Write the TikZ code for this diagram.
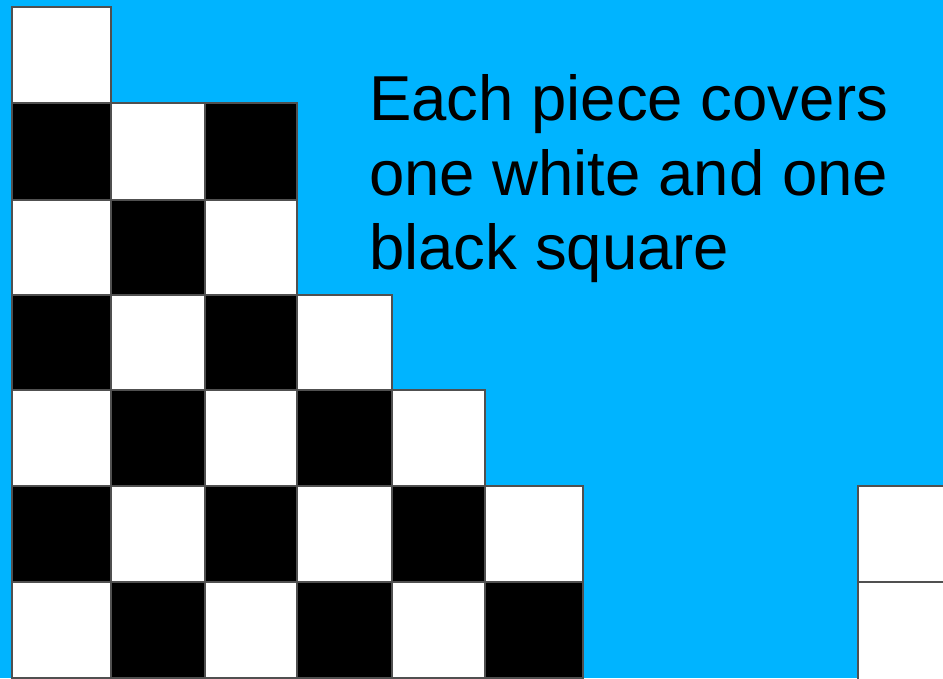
\documentclass[tikz,border=0pt]{standalone}
\usepackage{fontspec}
\setmainfont{Liberation Sans}
\definecolor{bgblue}{HTML}{00B4FF}
\definecolor{edgegray}{HTML}{505050}
\tikzset{
  cellw/.style={fill=white,draw=edgegray,line width=1.4pt},
  cellb/.style={fill=black,draw=edgegray,line width=1.4pt},
  caption/.style={font=\fontsize{63.5}{74.5}\selectfont,align=left,inner sep=0pt,anchor=north west,text=black}
}
\begin{document}
\begin{tikzpicture}[x=1pt,y=-1pt]
\fill[bgblue] (0,0) rectangle (943,678);
\useasboundingbox (0,0) rectangle (943,678);
\def\xs{{12,111,205,297,392,485,583}}
\def\ys{{7,103,200,295,390,486,582,678}}
\def\cmax{{0,2,2,3,4,5,5}}
\foreach \r in {0,...,6}{
  \pgfmathtruncatemacro{\cm}{\cmax[\r]}
  \foreach \c in {0,...,\cm}{
    \pgfmathsetmacro{\xa}{\xs[\c]}
    \pgfmathsetmacro{\xb}{\xs[\c+1]}
    \pgfmathsetmacro{\ya}{\ys[\r]}
    \pgfmathsetmacro{\yb}{\ys[\r+1]}
    \pgfmathtruncatemacro{\parity}{mod(\r+\c,2)}
    \ifnum\parity=0
      \draw[cellw] (\xa,\ya) rectangle (\xb,\yb);
    \else
      \draw[cellb] (\xa,\ya) rectangle (\xb,\yb);
    \fi
  }
}
\draw[cellw] (858,486) rectangle (950,582);
\draw[cellw] (858,582) rectangle (950,685);
\node[caption] (txt) at (369,74.5) {Each piece covers\\one white and one\\black square};
\end{tikzpicture}
\end{document}
